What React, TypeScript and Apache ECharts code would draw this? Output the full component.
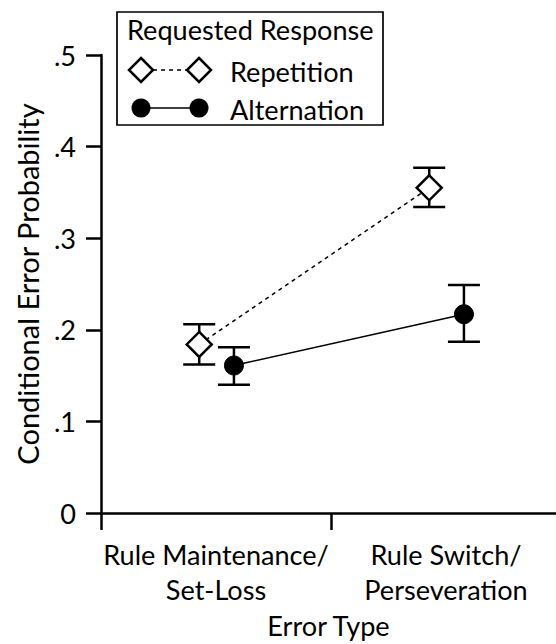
import React, { useEffect, useRef } from "react";
import * as echarts from "echarts";

const categories = ["Rule Maintenance/\nSet-Loss", "Rule Switch/\nPerseveration"];
const categoryCenters = [0.5, 1.5];
const yTicks = [0, 0.1, 0.2, 0.3, 0.4, 0.5];
const yTickLabels = ["0", ".1", ".2", ".3", ".4", ".5"];

const seriesNames = ["Repetition", "Alternation"];
const legendTitle = "Requested Response";
const xAxisTitle = "Error Type";
const yAxisTitle = "Conditional Error Probability";

const repetitionMean = [0.184, 0.355];
const repetitionLow = [0.162, 0.334];
const repetitionHigh = [0.206, 0.377];

const alternationMean = [0.161, 0.217];
const alternationLow = [0.140, 0.187];
const alternationHigh = [0.181, 0.249];

const repetitionOffset = -0.073;
const alternationOffset = 0.078;

const FONT = "Lato";

function fitFontSize(text: string, targetWidth: number): number {
  try {
    const c = document.createElement("canvas");
    const ctx = c.getContext("2d");
    if (!ctx) return 27;
    ctx.font = `100px ${FONT}`;
    const w = ctx.measureText(text).width;
    if (!w) return 27;
    return Math.round((100 * targetWidth) / w * 10) / 10;
  } catch (e) {
    return 27;
  }
}

export default function App() {
  const ref = useRef<HTMLDivElement>(null);
  useEffect(() => {
    if (!ref.current) return;
    const chart = echarts.init(ref.current, null, { renderer: "svg" });
    const fs = fitFontSize("Rule Maintenance/", 226);
    const yNameFs = Math.round(fs * 1.07 * 10) / 10;

    const repPts = repetitionMean.map((v, i) => [categoryCenters[i] + repetitionOffset, v]);
    const altPts = alternationMean.map((v, i) => [categoryCenters[i] + alternationOffset, v]);
    const errData = [
      ...repetitionMean.map((_, i) => [categoryCenters[i] + repetitionOffset, repetitionLow[i], repetitionHigh[i]]),
      ...alternationMean.map((_, i) => [categoryCenters[i] + alternationOffset, alternationLow[i], alternationHigh[i]]),
    ];

    const labelFor = (v: number) => {
      const idx = categoryCenters.findIndex((c) => Math.abs(c - v) < 1e-6);
      return idx >= 0 ? categories[idx] : "";
    };

    const txt = { fontFamily: FONT, fontSize: fs, color: "#000" };

    chart.setOption({
      animation: false,
      backgroundColor: "#ffffff",
      grid: { left: 101, right: 0, top: 55, bottom: 129, containLabel: false },
      xAxis: {
        type: "value",
        min: 0,
        max: 455 / 230,
        interval: 0.5,
        name: xAxisTitle,
        nameLocation: "middle",
        nameGap: 111.5,
        nameTextStyle: { ...txt, verticalAlign: "middle", lineHeight: fs },
        axisLine: { show: true, onZero: false, lineStyle: { color: "#000", width: 2.5 } },
        axisTick: { show: true, customValues: [0, 1], length: 17, lineStyle: { color: "#000", width: 2.5 } },
        axisLabel: {
          customValues: categoryCenters,
          formatter: (v: number) => labelFor(v),
          ...txt,
          lineHeight: 35,
          margin: 24,
          align: "center",
        },
        splitLine: { show: false },
      },
      yAxis: {
        type: "value",
        min: 0,
        max: 0.5,
        interval: 0.1,
        name: yAxisTitle,
        nameLocation: "middle",
        nameGap: 74,
        nameTextStyle: { ...txt, fontSize: yNameFs, verticalAlign: "middle", lineHeight: yNameFs },
        axisLine: { show: true, lineStyle: { color: "#000", width: 2.5 } },
        axisTick: { show: true, length: 15, lineStyle: { color: "#000", width: 2.5 } },
        axisLabel: {
          formatter: (v: number) => {
            const idx = yTicks.findIndex((t) => Math.abs(t - v) < 1e-6);
            return idx >= 0 ? yTickLabels[idx] : "";
          },
          ...txt,
          margin: 25,
        },
        splitLine: { show: false },
      },
      series: [
        {
          type: "custom",
          name: "errors",
          z: 1,
          data: errData,
          renderItem: (params: any, api: any) => {
            const x = api.value(0);
            const lo = api.coord([x, api.value(1)]);
            const hi = api.coord([x, api.value(2)]);
            const hw = 16;
            const style = { stroke: "#000", lineWidth: 2.5 };
            return {
              type: "group",
              children: [
                { type: "line", shape: { x1: lo[0], y1: lo[1], x2: hi[0], y2: hi[1] }, style },
                { type: "line", shape: { x1: lo[0] - hw, y1: lo[1], x2: lo[0] + hw, y2: lo[1] }, style },
                { type: "line", shape: { x1: hi[0] - hw, y1: hi[1], x2: hi[0] + hw, y2: hi[1] }, style },
              ],
            };
          },
        },
        {
          type: "line",
          name: seriesNames[0],
          z: 3,
          data: repPts,
          symbol: "diamond",
          symbolSize: [25, 25],
          lineStyle: { color: "#000", width: 1.5, type: [4, 4] },
          itemStyle: { color: "#fff", borderColor: "#000", borderWidth: 2.5 },
        },
        {
          type: "line",
          name: seriesNames[1],
          z: 3,
          data: altPts,
          symbol: "circle",
          symbolSize: 19,
          lineStyle: { color: "#000", width: 1.5 },
          itemStyle: { color: "#000", borderColor: "#000", borderWidth: 1 },
        },
      ],
      graphic: [
        {
          type: "rect",
          shape: { x: 117, y: 12, width: 266, height: 113 },
          style: { fill: "#fff", stroke: "#000", lineWidth: 1.7 },
          z: 10,
        },
        {
          type: "text",
          x: 127,
          y: 29,
          style: { text: legendTitle, fontFamily: FONT, fontSize: fs, fill: "#000", verticalAlign: "middle" },
          z: 11,
        },
        {
          type: "line",
          shape: { x1: 153, y1: 70, x2: 187, y2: 70 },
          style: { stroke: "#000", lineWidth: 1.5, lineDash: [4, 4] },
          z: 11,
        },
        {
          type: "polygon",
          shape: { points: [[141, 58], [153, 70], [141, 82], [129, 70]] },
          style: { fill: "#fff", stroke: "#000", lineWidth: 2.5 },
          z: 11,
        },
        {
          type: "polygon",
          shape: { points: [[199, 58], [211, 70], [199, 82], [187, 70]] },
          style: { fill: "#fff", stroke: "#000", lineWidth: 2.5 },
          z: 11,
        },
        {
          type: "text",
          x: 230,
          y: 71,
          style: { text: seriesNames[0], fontFamily: FONT, fontSize: fs, fill: "#000", verticalAlign: "middle" },
          z: 11,
        },
        {
          type: "line",
          shape: { x1: 141, y1: 108, x2: 199, y2: 108 },
          style: { stroke: "#000", lineWidth: 1.5 },
          z: 11,
        },
        { type: "circle", shape: { cx: 141, cy: 108, r: 9.5 }, style: { fill: "#000" }, z: 11 },
        { type: "circle", shape: { cx: 199, cy: 108, r: 9.5 }, style: { fill: "#000" }, z: 11 },
        {
          type: "text",
          x: 230,
          y: 109,
          style: { text: seriesNames[1], fontFamily: FONT, fontSize: fs, fill: "#000", verticalAlign: "middle" },
          z: 11,
        },
      ],
    });
    return () => chart.dispose();
  }, []);
  return (
    <div
      ref={ref}
      style={{ position: "fixed", left: 0, top: 0, width: 556, height: 644, background: "#fff" }}
    />
  );
}
